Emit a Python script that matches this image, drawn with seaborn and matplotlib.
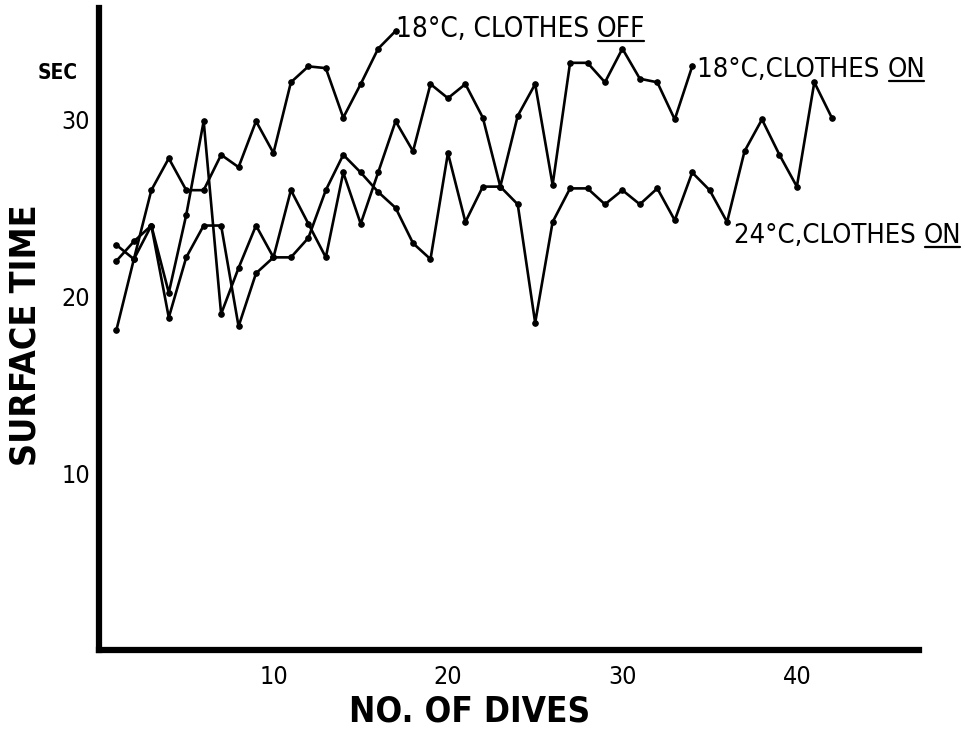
import matplotlib
matplotlib.use("Agg")
import matplotlib.pyplot as plt
from matplotlib import font_manager
from matplotlib.font_manager import FontProperties
from matplotlib.lines import Line2D
import pandas as pd
import seaborn as sns

# ---- data ----
dives_off = list(range(1, 18))
time_off = [18.1, 22.1, 26.0, 27.8, 26.0, 26.0, 28.0, 27.3, 29.9, 28.1,
            32.1, 33.0, 32.9, 30.1, 32.0, 34.0, 35.0]

dives_18on = list(range(1, 35))
time_18on = [22.9, 22.1, 24.0, 20.2, 24.6, 29.9, 19.0, 21.6, 24.0, 22.2,
             26.0, 24.1, 22.2, 27.0, 24.1, 27.0, 29.9, 28.2, 32.0, 31.2,
             32.0, 30.1, 26.2, 30.2, 32.0, 26.3, 33.2, 33.2, 32.1, 34.0,
             32.3, 32.1, 30.0, 33.0]

dives_24on = list(range(1, 43))
time_24on = [22.0, 23.1, 24.0, 18.8, 22.2, 24.0, 24.0, 18.3, 21.3, 22.2,
             22.2, 23.3, 26.0, 28.0, 27.0, 25.9, 25.0, 23.0, 22.1, 28.1,
             24.2, 26.2, 26.2, 25.2, 18.5, 24.2, 26.1, 26.1, 25.2, 26.0,
             25.2, 26.1, 24.3, 27.0, 26.0, 24.2, 28.2, 30.0, 28.0, 26.2,
             32.1, 30.1]

x_ticks = [10, 20, 30, 40]
y_ticks = [10, 20, 30]

series_labels = [("18°C, CLOTHES ", "OFF"),
                 ("18°C,CLOTHES ", "ON"),
                 ("24°C,CLOTHES ", "ON")]

# ---- style ----
sns.set_theme(style="white")
plt.rcParams["font.family"] = ["DejaVu Sans"]
plt.rcParams["text.color"] = "black"
plt.rcParams["xtick.color"] = "black"
plt.rcParams["ytick.color"] = "black"


def find_font(bold):
    """Prefer a condensed / narrow face if one is installed."""
    best = None
    for f in font_manager.fontManager.ttflist:
        narrow = ("Condensed" in f.name or "Narrow" in f.name
                  or str(f.stretch) in ("condensed", "semi-condensed",
                                         "extra-condensed"))
        if not narrow or str(f.style) != "normal":
            continue
        w = f.weight if isinstance(f.weight, int) else (700 if "bold" in str(f.weight) else 400)
        if (w >= 600) != bold:
            continue
        score = 2 if "DejaVu" in f.name else (1 if "Liberation" in f.name else 0)
        if best is None or score > best[0]:
            best = (score, f.fname)
    if best:
        return FontProperties(fname=best[1])
    return FontProperties(family="DejaVu Sans",
                          weight="bold" if bold else "normal")


fp_reg = find_font(False)
fp_bold = find_font(True)

fig = plt.figure(figsize=(9.65, 7.29), dpi=100)
ax = fig.add_axes([99 / 965, 79 / 729, 820 / 965, 642 / 729])

frames = [
    pd.DataFrame({"dive": dives_off, "time": time_off}),
    pd.DataFrame({"dive": dives_18on, "time": time_18on}),
    pd.DataFrame({"dive": dives_24on, "time": time_24on}),
]
for df in frames:
    sns.lineplot(data=df, x="dive", y="time", ax=ax, color="black",
                 linewidth=1.9, marker="o", markersize=4,
                 markeredgecolor="black", markerfacecolor="black")

ax.set_xlim(0, 47)
ax.set_ylim(0, 36.3)
ax.set_xticks(x_ticks)
ax.set_yticks(y_ticks)
ax.tick_params(axis="both", direction="inout", length=9, width=2,
               color="black", labelcolor="black")
ax.tick_params(axis="x", pad=6)
ax.tick_params(axis="y", pad=2)
for lab in ax.get_xticklabels() + ax.get_yticklabels():
    lab.set_fontproperties(fp_reg)
    lab.set_fontsize(18)
    lab.set_color("black")
for s in ["top", "right"]:
    ax.spines[s].set_visible(False)
for s in ["left", "bottom"]:
    ax.spines[s].set_linewidth(4.5)
    ax.spines[s].set_color("black")
    ax.spines[s].set_capstyle("projecting")
ax.set_xlabel("")
ax.set_ylabel("")

ylab = fig.text(26 / 965, 1 - 335 / 729, "SURFACE TIME", rotation=90,
                ha="center", va="center", fontproperties=fp_bold,
                fontsize=28, color="black")
xlab = fig.text(470 / 965, 1 - 712 / 729, "NO. OF DIVES", ha="center",
                va="center", fontproperties=fp_bold, fontsize=28,
                color="black")
sec = fig.text(58 / 965, 1 - 73 / 729, "SEC", ha="center", va="center",
               fontproperties=fp_bold, fontsize=15, color="black")

# series labels with underlined last word
label_pos = [(17.0, 35.1), (34.3, 32.8), (36.4, 23.4)]
label_width = [250, 228, 227]
pairs = []
for (pre, word), (lx, ly) in zip(series_labels, label_pos):
    t1 = ax.text(lx, ly, pre, ha="left", va="center",
                 fontproperties=fp_reg, fontsize=22, color="black")
    t2 = ax.annotate(word, xy=(1, 0), xycoords=t1, ha="left", va="bottom",
                     fontproperties=fp_reg, fontsize=22, color="black")
    pairs.append((t1, t2))


def fit_texts():
    fig.canvas.draw()
    r = fig.canvas.get_renderer()
    for t, target, horiz in [(ylab, 262, False), (xlab, 242, True),
                             (sec, 43, True)]:
        bb = t.get_window_extent(r)
        cur = bb.width if horiz else bb.height
        t.set_fontsize(t.get_fontsize() * min(1.0, target / cur))
    for (t1, t2), target in zip(pairs, label_width):
        w = t1.get_window_extent(r).width + t2.get_window_extent(r).width
        k = min(1.0, target / w)
        t1.set_fontsize(t1.get_fontsize() * k)
        t2.set_fontsize(t2.get_fontsize() * k)


fit_texts()
fit_texts()

fig.canvas.draw()
inv = fig.transFigure.inverted()
for _, t2 in pairs:
    bb = t2.get_window_extent()
    (x0, y0), (x1, _) = inv.transform([(bb.x0 + 1, bb.y0 + 2),
                                       (bb.x1 - 1, bb.y0 + 2)])
    fig.add_artist(Line2D([x0, x1], [y0, y0], transform=fig.transFigure,
                          color="black", linewidth=1.6))

fig.savefig("out.png", dpi=100, facecolor="white")
